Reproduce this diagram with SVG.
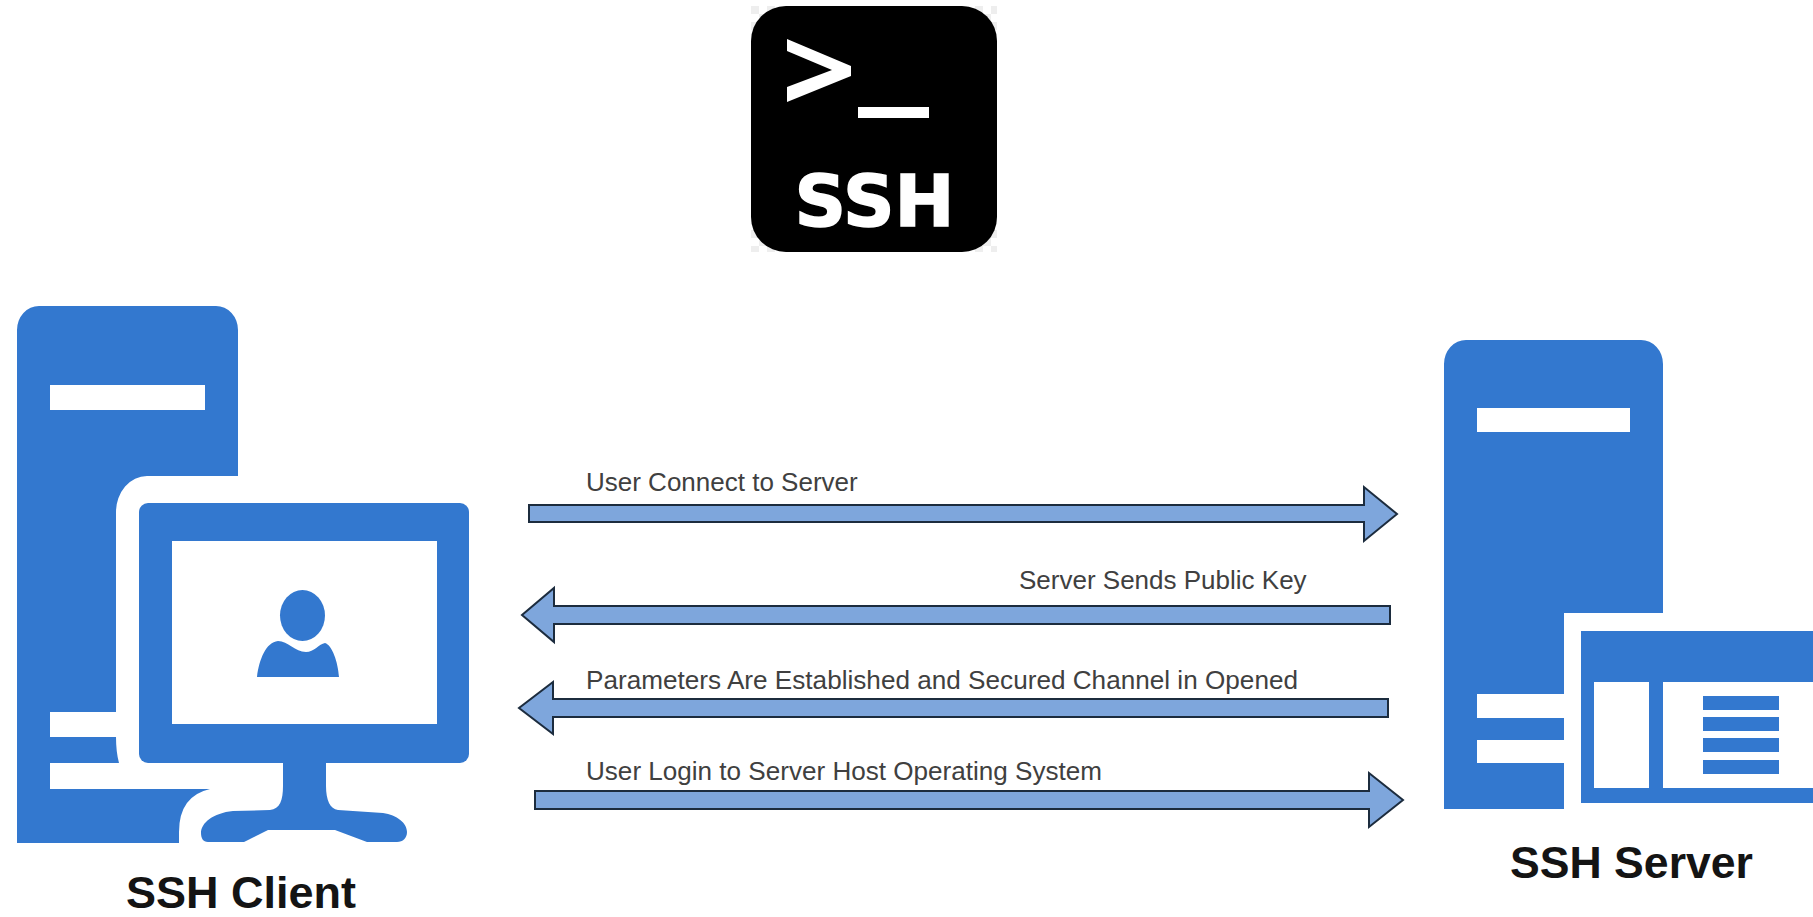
<svg xmlns="http://www.w3.org/2000/svg" width="1813" height="917" viewBox="0 0 1813 917">
<style>
.b{fill:#3378cf}
.w{fill:#fff}
.a{fill:#7ea6dc;stroke:#1c2c3e;stroke-width:2;stroke-linejoin:miter}
.t{font-family:"Liberation Sans",Arial,sans-serif;font-size:26px;fill:#404040}
.h{font-family:"Liberation Sans",Arial,sans-serif;font-weight:bold;font-size:45px;fill:#141414}
</style>
<defs>
<pattern id="chk" width="16" height="16" patternUnits="userSpaceOnUse" x="751" y="6">
<rect width="16" height="16" fill="#fff"/>
<rect width="8" height="8" fill="#eeeeee"/>
<rect x="8" y="8" width="8" height="8" fill="#eeeeee"/>
</pattern>
</defs>
<rect width="1813" height="917" fill="#fff"/>
<g id="ssh-logo">
<rect x="751" y="6" width="246" height="246" fill="url(#chk)"/>
<rect x="751" y="6" width="246" height="246" rx="35" fill="#000"/>
<path class="w" d="M787 39 L851 66 V76 L787 102 V87 L832 70 L787 51 Z"/>
<rect class="w" x="858" y="107" width="71" height="11"/>
<text x="874.500" y="226" text-anchor="middle" font-family="'DejaVu Sans',sans-serif" font-weight="bold" font-size="72" textLength="160" lengthAdjust="spacingAndGlyphs" stroke="#fff" stroke-width="1.500" fill="#fff">SSH</text>
</g>
<g id="ssh-client">
<path class="b" d="M17 330 A22 24 0 0 1 39 306 H216 A22 24 0 0 1 238 330 V476 H147 A31 36 0 0 0 116 512 V712 H50 V737 H116 Q116 752 119 763 H50 V789 H210 Q179 796 179 832 V843 H17 Z"/>
<rect class="w" x="50" y="385" width="155" height="25"/>
<rect class="b" x="139" y="503" width="330" height="260" rx="9"/>
<rect class="w" x="172" y="541" width="265" height="183"/>
<ellipse class="b" cx="302.500" cy="615.500" rx="22.500" ry="25.500"/>
<path class="b" d="M257 677 C259 660 266 642 278 641 C288 641 295 652 306 652 C314 652 319 644 325 643 C332 645 338 662 339 677 Z"/>
<path class="b" d="M283 763 V786 C283 800 280 809 270 810 L233 811 C213 813 201 823 201 833 C201 838 203 842 208 842 H244 L268 830 H335 L367 842 H397 C403 842 407 838 407 832 C407 823 397 815 383 813 L338 810 C330 809 326 800 326 786 V763 Z"/>
<text class="h" x="126" y="907.500">SSH Client</text>
</g>
<g id="ssh-server">
<path class="b" d="M1444 364 A22 24 0 0 1 1466 340 H1641 A22 24 0 0 1 1663 364 V613 H1564 V694 H1477 V718 H1564 V740 H1477 V763 H1564 V809 H1444 Z"/>
<rect class="w" x="1477" y="408" width="153" height="24"/>
<rect class="b" x="1581" y="631" width="232" height="172"/>
<rect class="w" x="1594" y="682" width="55" height="106"/>
<rect class="w" x="1663" y="682" width="150" height="106"/>
<rect class="b" x="1703" y="696" width="76" height="14"/>
<rect class="b" x="1703" y="717" width="76" height="14"/>
<rect class="b" x="1703" y="738" width="76" height="14"/>
<rect class="b" x="1703" y="760" width="76" height="14"/>
<text class="h" x="1510" y="878" style="font-size:44.600px">SSH Server</text>
</g>
<g id="connectors">
<path class="a" d="M529 505 H1364 V487 L1397 514 L1364 541 V522 H529 Z"/>
<path class="a" d="M1390 606 H554 V588 L522 615 L554 642 V624 H1390 Z"/>
<path class="a" d="M1388 699 H553 V682 L519 708 L553 734 V717 H1388 Z"/>
<path class="a" d="M535 791 H1369 V773 L1403 800 L1369 827 V809 H535 Z"/>
</g>
<g id="labels">
<text class="t" x="586" y="491">User Connect to Server</text>
<text class="t" x="1019" y="589">Server Sends Public Key</text>
<text class="t" x="586" y="689" textLength="712" lengthAdjust="spacingAndGlyphs">Parameters Are Established and Secured Channel in Opened</text>
<text class="t" x="586" y="780" textLength="516" lengthAdjust="spacingAndGlyphs">User Login to Server Host Operating System</text>
</g>
</svg>
